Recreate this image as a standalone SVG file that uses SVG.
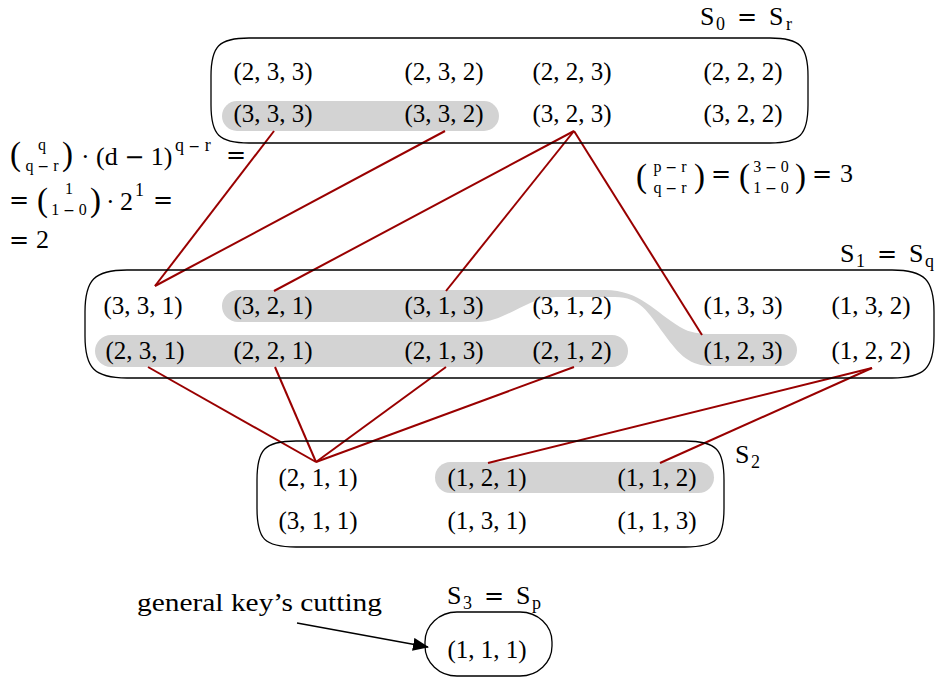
<svg xmlns="http://www.w3.org/2000/svg" width="935" height="680" viewBox="0 0 935 680">
  <style>
    .t { font-family: "Liberation Serif", serif; font-size: 25px; fill: #000; text-anchor: middle; }
    .m { font-family: "Liberation Serif", serif; font-size: 26px; fill: #000; }
    .p { font-family: "Liberation Serif", serif; font-size: 33px; fill: #000; }
    .s { font-family: "Liberation Serif", serif; font-size: 18px; fill: #000; }
    .b { font-family: "Liberation Serif", serif; font-size: 16px; fill: #000; text-anchor: middle; }
    .op { font-family: "DejaVu Sans", sans-serif; font-size: 24px; fill: #000; }
    .sop { font-family: "DejaVu Sans", sans-serif; font-size: 14px; }
    .box { fill: none; stroke: #000; stroke-width: 1.3; }
    .hl { fill: #d3d3d3; stroke: none; }
    .edge { stroke: #990000; stroke-width: 2; fill: none; }
  </style>
  <defs>
    <marker id="arrow" markerWidth="16" markerHeight="13" refX="15" refY="6.5" orient="auto" markerUnits="userSpaceOnUse">
      <path d="M0,0 L16,6.5 L0,13 Z" fill="#000"/>
    </marker>
  </defs>

  <!-- highlighted groups -->
  <g id="highlights">
    <rect class="hl" x="222" y="101" width="277" height="30" rx="15"/>
    <rect class="hl" x="95" y="335" width="533" height="32" rx="16"/>
    <path class="hl" d="M238 290 L605 290 C640 290 655 312 680 327 C690 333 700 334 712 334 L781 334 A16 16 0 0 1 781 366 L712 366 C690 366 680 356 664 334 C648 312 640 297 615 297 L556 297 C528 297 505 322 478 322 L238 322 A16 16 0 0 1 238 290 Z"/>
    <rect class="hl" x="435" y="462" width="279" height="31" rx="15.5"/>
  </g>

  <!-- connectors -->
  <g id="connectors">
    <line class="edge" x1="274" y1="131" x2="155" y2="286"/>
    <line class="edge" x1="445" y1="131" x2="155" y2="286"/>
    <line class="edge" x1="574" y1="131" x2="274" y2="291"/>
    <line class="edge" x1="574" y1="131" x2="446" y2="291"/>
    <line class="edge" x1="574" y1="131" x2="702" y2="335"/>
    <line class="edge" x1="148" y1="367" x2="316" y2="462"/>
    <line class="edge" x1="275" y1="367" x2="316" y2="462"/>
    <line class="edge" x1="446" y1="367" x2="316" y2="462"/>
    <line class="edge" x1="574" y1="367" x2="316" y2="462"/>
    <line class="edge" x1="872" y1="368" x2="488" y2="463"/>
    <line class="edge" x1="872" y1="368" x2="660" y2="463"/>
    <line x1="297" y1="623" x2="428" y2="647" stroke="#000" stroke-width="1.3" marker-end="url(#arrow)"/>
  </g>

  <!-- S0 = Sr -->
  <g id="S0">
    <path class="box" d="M249 38 L770 38 C800 38 808 46 808 76 L808 105 C808 135 800 143 770 143 L249 143 C219 143 211 135 211 105 L211 76 C211 46 219 38 249 38 Z"/>
    <text class="m" x="700" y="25">S</text><text class="s" x="716" y="30">0</text>
    <text class="op" x="737" y="25">=</text>
    <text class="m" x="769" y="25">S</text><text class="s" x="786" y="30">r</text>
    <text class="t" x="273" y="80">(2, 3, 3)</text>
    <text class="t" x="444" y="80">(2, 3, 2)</text>
    <text class="t" x="572" y="80">(2, 2, 3)</text>
    <text class="t" x="743" y="80">(2, 2, 2)</text>
    <text class="t" x="273" y="122">(3, 3, 3)</text>
    <text class="t" x="444" y="122">(3, 3, 2)</text>
    <text class="t" x="572" y="122">(3, 2, 3)</text>
    <text class="t" x="743" y="122">(3, 2, 2)</text>
  </g>

  <!-- S1 = Sq -->
  <g id="S1">
    <path class="box" d="M127 270 L892 270 C925 270 934 280 934 312 L934 336 C934 368 925 378 892 378 L127 378 C94 378 85 368 85 336 L85 312 C85 280 94 270 127 270 Z"/>
    <text class="m" x="840" y="262">S</text><text class="s" x="856" y="267">1</text>
    <text class="op" x="877" y="262">=</text>
    <text class="m" x="909" y="262">S</text><text class="s" x="925" y="267">q</text>
    <text class="t" x="143" y="314">(3, 3, 1)</text>
    <text class="t" x="273" y="314">(3, 2, 1)</text>
    <text class="t" x="444" y="314">(3, 1, 3)</text>
    <text class="t" x="572" y="314">(3, 1, 2)</text>
    <text class="t" x="743" y="314">(1, 3, 3)</text>
    <text class="t" x="871" y="314">(1, 3, 2)</text>
    <text class="t" x="145" y="359">(2, 3, 1)</text>
    <text class="t" x="273" y="359">(2, 2, 1)</text>
    <text class="t" x="444" y="359">(2, 1, 3)</text>
    <text class="t" x="572" y="359">(2, 1, 2)</text>
    <text class="t" x="743" y="359">(1, 2, 3)</text>
    <text class="t" x="871" y="359">(1, 2, 2)</text>
  </g>

  <!-- S2 -->
  <g id="S2">
    <path class="box" d="M296 441 L685 441 C717 441 724 450 724 480 L724 508 C724 539 717 547 685 547 L296 547 C264 547 257 539 257 508 L257 480 C257 450 264 441 296 441 Z"/>
    <text class="m" x="735" y="463">S</text><text class="s" x="751" y="468">2</text>
    <text class="t" x="318" y="486">(2, 1, 1)</text>
    <text class="t" x="487" y="486">(1, 2, 1)</text>
    <text class="t" x="657" y="486">(1, 1, 2)</text>
    <text class="t" x="318" y="529">(3, 1, 1)</text>
    <text class="t" x="487" y="529">(1, 3, 1)</text>
    <text class="t" x="657" y="529">(1, 1, 3)</text>
  </g>

  <!-- S3 = Sp -->
  <g id="S3">
    <rect class="box" x="425" y="612" width="127" height="64" rx="32" ry="30"/>
    <text class="m" x="447" y="604">S</text><text class="s" x="463" y="609">3</text>
    <text class="op" x="484" y="604">=</text>
    <text class="m" x="516" y="604">S</text><text class="s" x="532" y="609">p</text>
    <text class="t" x="487" y="658">(1, 1, 1)</text>
  </g>

  <!-- annotation -->
  <g id="note">
    <text class="m" x="137" y="611" font-size="27" textLength="245" lengthAdjust="spacingAndGlyphs">general key’s cutting</text>
  </g>

  <!-- count formula, left -->
  <g id="formula-left">
    <text class="p" x="10" y="165">(</text>
    <text class="b" x="42" y="150">q</text>
    <text class="b" x="42" y="171">q <tspan class="sop">−</tspan> r</text>
    <text class="p" x="62" y="165">)</text>
    <text class="m" x="81" y="165">·</text>
    <text class="m" x="96" y="165">(d <tspan class="op">−</tspan> 1)</text>
    <text class="s" x="175" y="151">q <tspan class="sop">−</tspan> r</text>
    <text class="op" x="226" y="163">=</text>

    <text class="op" x="9" y="208">=</text>
    <text class="p" x="37" y="211">(</text>
    <text class="b" x="69" y="194">1</text>
    <text class="b" x="69" y="215">1 <tspan class="sop">−</tspan> 0</text>
    <text class="p" x="90" y="211">)</text>
    <text class="m" x="106" y="210">·</text>
    <text class="m" x="120" y="210">2</text>
    <text class="s" x="135" y="196">1</text>
    <text class="op" x="153" y="208">=</text>

    <text class="op" x="9" y="248">=</text>
    <text class="m" x="36" y="248">2</text>
  </g>

  <!-- count formula, right -->
  <g id="formula-right">
    <text class="p" x="636" y="187">(</text>
    <text class="b" x="670" y="172">p <tspan class="sop">−</tspan> r</text>
    <text class="b" x="670" y="193">q <tspan class="sop">−</tspan> r</text>
    <text class="p" x="694" y="187">)</text>
    <text class="op" x="711" y="182">=</text>
    <text class="p" x="739" y="187">(</text>
    <text class="b" x="771" y="172">3 <tspan class="sop">−</tspan> 0</text>
    <text class="b" x="771" y="193">1 <tspan class="sop">−</tspan> 0</text>
    <text class="p" x="795" y="187">)</text>
    <text class="op" x="812" y="182">=</text>
    <text class="m" x="840" y="182">3</text>
  </g>
</svg>
